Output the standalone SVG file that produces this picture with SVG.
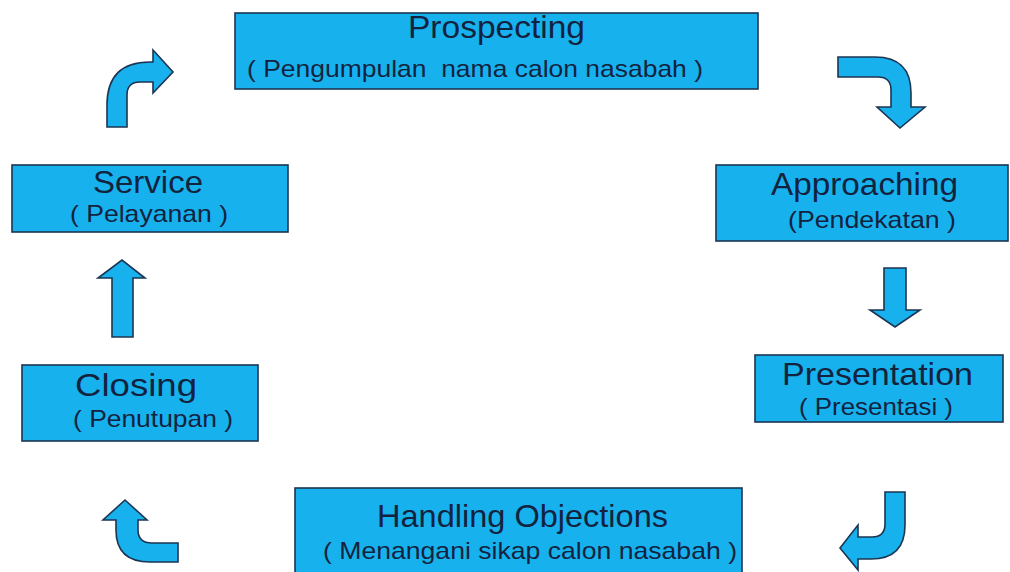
<svg xmlns="http://www.w3.org/2000/svg" width="1010" height="572" viewBox="0 0 1010 572">
<style>
.box{fill:#17b2ee;stroke:#1c3552;stroke-width:1.6}
.arr{fill:#17b2ee;stroke:#1c3552;stroke-width:1.6;stroke-linejoin:miter}
.t{font-family:"Liberation Sans",Arial,sans-serif;font-size:32px;fill:#13233f}
.s{font-family:"Liberation Sans",Arial,sans-serif;font-size:24px;fill:#13233f;white-space:pre}
</style>
<rect width="1010" height="572" fill="#ffffff"/>
<g id="prospecting">
<rect class="box" x="235" y="13" width="523" height="76"/>
<text class="t" x="408" y="38" textLength="177" lengthAdjust="spacingAndGlyphs">Prospecting</text>
<text class="s" x="247" y="77" textLength="456" lengthAdjust="spacingAndGlyphs">( Pengumpulan  nama calon nasabah )</text>
</g>
<g id="approaching">
<rect class="box" x="716" y="165" width="292" height="76"/>
<text class="t" x="771" y="195" textLength="187" lengthAdjust="spacingAndGlyphs">Approaching</text>
<text class="s" x="788" y="228" textLength="168" lengthAdjust="spacingAndGlyphs">(Pendekatan )</text>
</g>
<g id="presentation">
<rect class="box" x="755" y="355" width="248" height="67"/>
<text class="t" x="782" y="385" textLength="191" lengthAdjust="spacingAndGlyphs">Presentation</text>
<text class="s" x="799" y="415" textLength="154" lengthAdjust="spacingAndGlyphs">( Presentasi )</text>
</g>
<g id="handling">
<rect class="box" x="295" y="488" width="447" height="90"/>
<text class="t" x="377" y="527" textLength="291" lengthAdjust="spacingAndGlyphs">Handling Objections</text>
<text class="s" x="323" y="559" textLength="414" lengthAdjust="spacingAndGlyphs">( Menangani sikap calon nasabah )</text>
</g>
<g id="closing">
<rect class="box" x="22" y="365" width="236" height="76"/>
<text class="t" x="75" y="396" textLength="122" lengthAdjust="spacingAndGlyphs">Closing</text>
<text class="s" x="73" y="427" textLength="160" lengthAdjust="spacingAndGlyphs">( Penutupan )</text>
</g>
<g id="service">
<rect class="box" x="12" y="165" width="276" height="67"/>
<text class="t" x="93" y="193" textLength="110" lengthAdjust="spacingAndGlyphs">Service</text>
<text class="s" x="70" y="222" textLength="158" lengthAdjust="spacingAndGlyphs">( Pelayanan )</text>
</g>
<g id="connectors">
<path class="arr" d="M838,57 L875,57 Q911,57 911,93 L911,107 L925,107 L900,128 L877,107 L891,107 L891,90 Q891,77 878,77 L838,77 Z"/>
<path class="arr" d="M884,268 L906,268 L906,310 L920,310 L895,327 L870,310 L884,310 Z"/>
<path class="arr" d="M885,492 L905,492 L905,525 Q905,559 871,559 L858,559 L858,570 L840,548 L858,525 L858,537 L872,537 Q885,537 885,524 Z"/>
<path class="arr" d="M178,543 L152,543 Q138,543 138,530 L138,520 L147,520 L125,500 L103,520 L116,520 L116,530 Q116,562 150,562 L178,562 Z"/>
<path class="arr" d="M112,337 L133,337 L133,278 L145,278 L122,260 L98,278 L112,278 Z"/>
<path class="arr" d="M107,127 L107,105 Q107,62 150,62 L153,62 L153,50 L173,72 L153,93 L153,82 L140,82 Q127,82 127,95 L127,127 Z"/>
</g>
</svg>
